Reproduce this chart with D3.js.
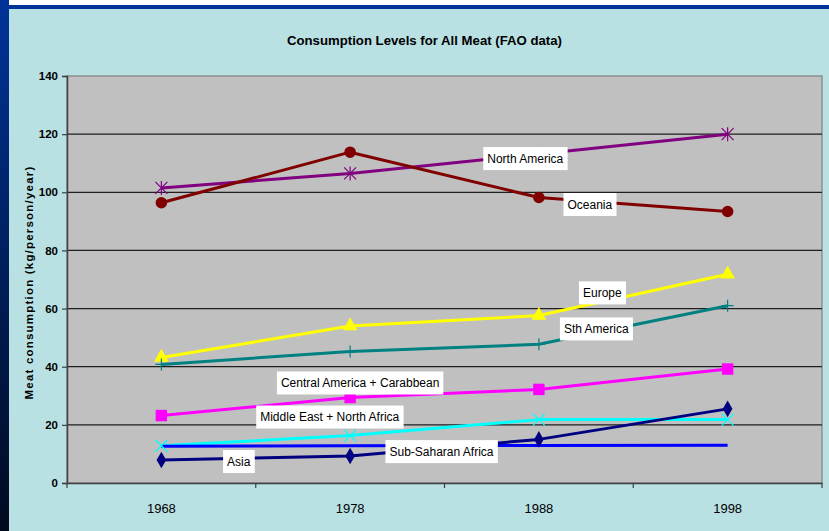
<!DOCTYPE html>
<html>
<head>
<meta charset="utf-8">
<script src="https://cdn.jsdelivr.net/npm/d3@7"></script>
<style>
  html, body { margin: 0; padding: 0; background: #ffffff; }
  svg { display: block; }
</style>
</head>
<body>
<script>
// ---------- data ----------
const years = ["1968", "1978", "1988", "1998"];
const yTicks = [0, 20, 40, 60, 80, 100, 120, 140];
const northAmerica = [101.5, 106.5, 113.2, 120.0];
const oceania      = [96.4, 113.8, 98.2, 93.4];
const europe       = [43.2, 54.0, 57.6, 71.8];
const sthAmerica   = [40.8, 45.2, 47.7, 61.0];
const centralAm    = [23.2, 29.4, 32.2, 39.2];
const middleEast   = [12.8, 16.3, 21.8, 21.8];
const subSaharan   = [12.6, 12.8, 12.9, 13.0];
const asia         = [7.9, 9.3, 15.0, 25.5];
const seriesNames = ["North America", "Oceania", "Europe", "Sth America",
  "Central America + Carabbean", "Middle East + North Africa", "Sub-Saharan Africa", "Asia"];
const titleText = "Consumption Levels for All Meat (FAO data)";
const yTitle = "Meat consumption (kg/person/year)";

// ---------- styling ----------
const W = 829, H = 531;
const plot = { left: 67, right: 822, top: 76, bottom: 483 };
const styles = [
  { color: "#800080", marker: "asterisk" },
  { color: "#800000", marker: "circle" },
  { color: "#ffff00", marker: "triangle" },
  { color: "#008080", marker: "plus" },
  { color: "#ff00ff", marker: "square" },
  { color: "#00ffff", marker: "x" },
  { color: "#0000ff", marker: "none" },
  { color: "#000080", marker: "diamond" }
];
// label anchors: [fractional category index, value]
const labelAnchors = [
  [1.928, 111.6], [2.270, 95.8], [2.336, 65.4], [2.304, 53.0],
  [1.053, 34.4], [0.892, 22.7], [1.484, 10.8], [0.410, 7.4]
];
const seriesData = [northAmerica, oceania, europe, sthAmerica, centralAm, middleEast, subSaharan, asia];
const drawOrder = [0, 1, 2, 3, 4, 5, 6, 7];

const svg = d3.select("body").append("svg").attr("width", W).attr("height", H);

// background
svg.append("rect").attr("width", W).attr("height", H).attr("fill", "#b9e0e3");
svg.append("rect").attr("x", 0).attr("y", 0).attr("width", W).attr("height", 5).attr("fill", "#ffffff");
svg.append("rect").attr("x", 0).attr("y", 5).attr("width", W).attr("height", 4).attr("fill", "#003399");
const defs = svg.append("defs");
const lg = defs.append("linearGradient").attr("id", "leftGrad").attr("x1", 0).attr("y1", 0).attr("x2", 0).attr("y2", 1);
lg.append("stop").attr("offset", "0%").attr("stop-color", "#003399");
lg.append("stop").attr("offset", "100%").attr("stop-color", "#000a1e");
svg.append("rect").attr("x", 0).attr("y", 0).attr("width", 9).attr("height", H).attr("fill", "url(#leftGrad)");

// scales
const x = d3.scaleBand().domain(years).range([plot.left, plot.right]).paddingInner(0).paddingOuter(0);
const bw = x.bandwidth();
const cx = i => x(years[0]) + bw / 2 + i * bw;
const y = d3.scaleLinear().domain([0, 140]).range([plot.bottom, plot.top]);

// plot area
svg.append("rect").attr("x", plot.left).attr("y", plot.top)
  .attr("width", plot.right - plot.left).attr("height", plot.bottom - plot.top)
  .attr("fill", "#c0c0c0").attr("stroke", "#808080").attr("stroke-width", 1.2);

// gridlines
svg.append("g").selectAll("line").data(yTicks.filter(t => t > 0 && t < 140)).join("line")
  .attr("x1", plot.left).attr("x2", plot.right)
  .attr("y1", d => y(d)).attr("y2", d => y(d))
  .attr("stroke", "#1e1e1e").attr("stroke-width", 1.2);

// y axis
const yAxis = d3.axisLeft(y).tickValues(yTicks).tickSize(5).tickPadding(4).tickFormat(d3.format("d"));
const gy = svg.append("g").attr("transform", `translate(${plot.left},0)`).call(yAxis);
gy.select(".domain").attr("stroke", "#404040").attr("stroke-width", 1.5);
gy.selectAll(".tick line").attr("stroke", "#404040").attr("stroke-width", 1.2);
gy.selectAll(".tick text").attr("font-family", "Liberation Sans, Arial, sans-serif")
  .attr("font-size", 11.5).attr("font-weight", "bold").attr("fill", "#000");

// x axis
const xAxis = d3.axisBottom(x).tickSize(0).tickPadding(0);
const gx = svg.append("g").attr("transform", `translate(0,${plot.bottom})`).call(xAxis);
gx.select(".domain").attr("stroke", "#404040").attr("stroke-width", 1.5);
gx.selectAll(".tick text").attr("font-family", "Liberation Sans, Arial, sans-serif")
  .attr("font-size", 13).attr("fill", "#000").attr("dy", 0).attr("y", 30);
// category boundary ticks
svg.append("g").selectAll("line").data(years.concat(["end"])).join("line")
  .attr("x1", (d, i) => plot.left + i * bw).attr("x2", (d, i) => plot.left + i * bw)
  .attr("y1", plot.bottom).attr("y2", plot.bottom + 5)
  .attr("stroke", "#404040").attr("stroke-width", 1.2);

// title
svg.append("text").attr("x", 424.5).attr("y", 45).attr("text-anchor", "middle")
  .attr("font-family", "Liberation Sans, Arial, sans-serif").attr("font-size", 13.2)
  .attr("font-weight", "bold").attr("fill", "#000").text(titleText);

// y title
svg.append("text").attr("transform", `translate(33,${(plot.top + plot.bottom) / 2 + 3}) rotate(-90)`)
  .attr("text-anchor", "middle").attr("font-family", "Liberation Sans, Arial, sans-serif")
  .attr("font-size", 11.5).attr("font-weight", "bold").attr("letter-spacing", 1.2)
  .attr("fill", "#000").text(yTitle);

// lines
const line = d3.line().x((d, i) => cx(i)).y(d => y(d));
const gLines = svg.append("g");
drawOrder.forEach(k => {
  gLines.append("path").datum(seriesData[k]).attr("d", line)
    .attr("fill", "none").attr("stroke", styles[k].color)
    .attr("stroke-width", 3).attr("stroke-linejoin", "round");
});

// markers
function markerPath(type) {
  const s = 6;
  switch (type) {
    case "circle": return d3.symbol(d3.symbolCircle, 105)();
    case "square": return d3.symbol(d3.symbolSquare, 130)();
    case "triangle": return d3.symbol(d3.symbolTriangle, 95)();
    case "diamond": return d3.symbol(d3.symbolDiamond, 80)();
    case "plus": return `M${-s},0L${s},0M0,${-s}L0,${s}`;
    case "x": return `M${-s},${-s}L${s},${s}M${-s},${s}L${s},${-s}`;
    case "asterisk": return `M${-s},${-s}L${s},${s}M${-s},${s}L${s},${-s}M0,${-s - 1}L0,${s + 1}`;
    default: return null;
  }
}
const gMarks = svg.append("g");
drawOrder.forEach(k => {
  const st = styles[k];
  if (st.marker === "none") return;
  const p = markerPath(st.marker);
  const stroked = ["plus", "x", "asterisk"].includes(st.marker);
  gMarks.append("g").selectAll("path").data(seriesData[k]).join("path")
    .attr("transform", (d, i) => `translate(${cx(i)},${y(d)})`)
    .attr("d", p)
    .attr("fill", stroked ? "none" : st.color)
    .attr("stroke", stroked ? st.color : "none")
    .attr("stroke-width", stroked ? 1.2 : 0);
});

// labels
const gLab = svg.append("g");
seriesNames.forEach((name, k) => {
  const [fi, v] = labelAnchors[k];
  const lx = cx(fi), ly = y(v);
  const g = gLab.append("g").attr("transform", `translate(${lx},${ly})`);
  const t = g.append("text").attr("text-anchor", "middle").attr("dy", "0.36em")
    .attr("font-family", "Liberation Sans, Arial, sans-serif").attr("font-size", 12)
    .attr("fill", "#000").text(name);
  const bb = t.node().getBBox();
  g.insert("rect", "text").attr("x", bb.x - 4).attr("y", -11.5)
    .attr("width", bb.width + 8).attr("height", 23).attr("fill", "#ffffff");
});
</script>
</body>
</html>
